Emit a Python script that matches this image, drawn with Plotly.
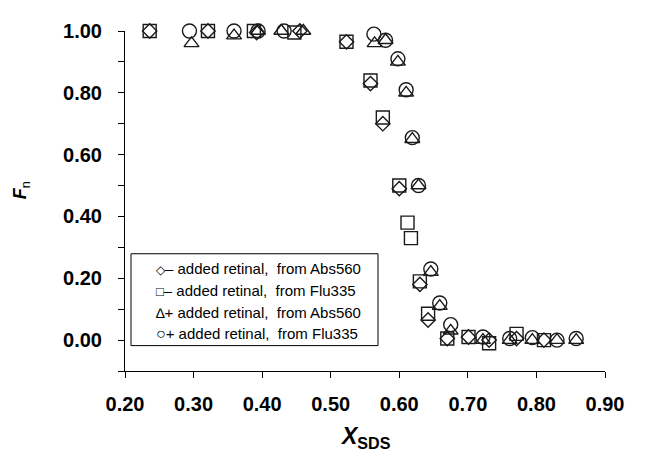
import plotly.graph_objects as go

# − added retinal, from Abs560 (diamonds)
x_dia = [0.236, 0.321, 0.392, 0.455, 0.523, 0.558, 0.576, 0.600, 0.630, 0.642, 0.670, 0.701, 0.731, 0.771, 0.811]
y_dia = [1.00, 1.00, 0.995, 1.00, 0.965, 0.83, 0.70, 0.49, 0.18, 0.065, 0.005, 0.01, 0.00, 0.005, 0.00]

# − added retinal, from Flu335 (squares)
x_sq = [0.236, 0.321, 0.388, 0.447, 0.523, 0.558, 0.576, 0.600, 0.612, 0.617, 0.630, 0.642, 0.670, 0.701, 0.731, 0.771, 0.811]
y_sq = [1.00, 1.00, 1.00, 0.995, 0.965, 0.84, 0.72, 0.50, 0.38, 0.33, 0.19, 0.085, 0.005, 0.01, -0.01, 0.02, 0.00]

# + added retinal, from Abs560 (triangles)
x_tri = [0.297, 0.359, 0.394, 0.428, 0.460, 0.564, 0.580, 0.598, 0.610, 0.619, 0.628, 0.646, 0.659, 0.675, 0.722, 0.761, 0.794, 0.830, 0.858]
y_tri = [0.96, 0.985, 1.00, 1.00, 1.00, 0.96, 0.97, 0.90, 0.80, 0.65, 0.50, 0.22, 0.11, 0.03, 0.00, 0.00, 0.00, 0.00, 0.00]

# + added retinal, from Flu335 (circles)
x_cir = [0.294, 0.359, 0.394, 0.432, 0.563, 0.580, 0.598, 0.610, 0.619, 0.628, 0.646, 0.659, 0.675, 0.722, 0.761, 0.794, 0.830, 0.858]
y_cir = [1.00, 1.00, 1.00, 1.00, 0.99, 0.97, 0.91, 0.81, 0.655, 0.50, 0.23, 0.12, 0.05, 0.01, 0.005, 0.008, 0.00, 0.005]

legend_glyphs = ["◇", "□", "∆", "○"]
legend_texts = ["– added retinal,  from Abs560", "– added retinal,  from Flu335",
                "+ added retinal,  from Abs560", "+ added retinal,  from Flu335"]

symbols = ["diamond-open", "square-open", "triangle-up-open", "circle-open"]
sizes = [11, 13, 13, 14]
glyph_px = [12, 13, 14, 16]
xs = [x_dia, x_sq, x_tri, x_cir]
ys = [y_dia, y_sq, y_tri, y_cir]

FONT = "Liberation Sans, Arial, sans-serif"
INK = "#1a1a1a"

fig = go.Figure()
for xv, yv, sym, sz, nm in zip(xs, ys, symbols, sizes, legend_texts):
    fig.add_trace(go.Scatter(
        x=xv, y=yv, mode="markers", name=nm, showlegend=False, cliponaxis=False,
        marker=dict(symbol=sym, size=sz, color=INK, line=dict(color=INK, width=1.4)),
    ))

L, T = 117, 15
W, H = 480, 348
def px_x(p):
    return (p - L) / W
def px_y(p):
    return (T + H - p) / H

shapes = [dict(type="rect", xref="paper", yref="paper",
               x0=px_x(123), x1=px_x(370), y0=px_y(337), y1=px_y(243),
               line=dict(color="black", width=1), fillcolor="white", layer="above")]
annotations = []
line_y = [258, 281, 303, 325]
for g, t, yy, gs in zip(legend_glyphs, legend_texts, line_y, glyph_px):
    annotations.append(dict(
        xref="paper", yref="paper", x=px_x(146), y=px_y(yy),
        xanchor="left", yanchor="middle", showarrow=False,
        text=f"<span style='font-size:{gs}px'>{g}</span>{t}",
        font=dict(family=FONT, size=15, color="black"),
    ))

annotations.append(dict(
    xref="paper", yref="paper", x=px_x(13), y=px_y(178),
    xanchor="center", yanchor="middle", showarrow=False, textangle=-90,
    text="<b><i>F</i></b><sub>n</sub>",
    font=dict(family=FONT, size=18, color="black"),
))
annotations.append(dict(
    xref="paper", yref="paper", x=0.5, y=px_y(431),
    xanchor="center", yanchor="middle", showarrow=False,
    text="<b><i>X</i><sub style='font-size:13px'>SDS</sub></b>",
    font=dict(family=FONT, size=23, color="black"),
))

fig.update_layout(
    width=658, height=454,
    margin=dict(l=117, r=61, t=15, b=91),
    paper_bgcolor="white", plot_bgcolor="white",
    font=dict(family=FONT, color="black"),
    showlegend=False,
    shapes=shapes,
    annotations=annotations,
    xaxis=dict(
        range=[0.2, 0.9], tick0=0.2, dtick=0.1, tickformat=".2f",
        showline=True, linecolor="black", linewidth=1,
        ticks="outside", ticklen=6, tickcolor="black",
        showgrid=False, zeroline=False,
        tickfont=dict(family=FONT, size=20, weight="bold", color="black"),
        ticklabelstandoff=9,
    ),
    yaxis=dict(
        range=[-0.1, 1.0], tick0=0, dtick=0.2, tickformat=".2f",
        showline=True, linecolor="black", linewidth=1,
        ticks="outside", ticklen=6, tickcolor="black",
        minor=dict(dtick=0.1, ticks="outside", ticklen=6, tickcolor="black"),
        showgrid=False, zeroline=False,
        tickfont=dict(family=FONT, size=20, weight="bold", color="black"),
        ticklabelstandoff=12,
    ),
)

fig.write_html("out.html")
